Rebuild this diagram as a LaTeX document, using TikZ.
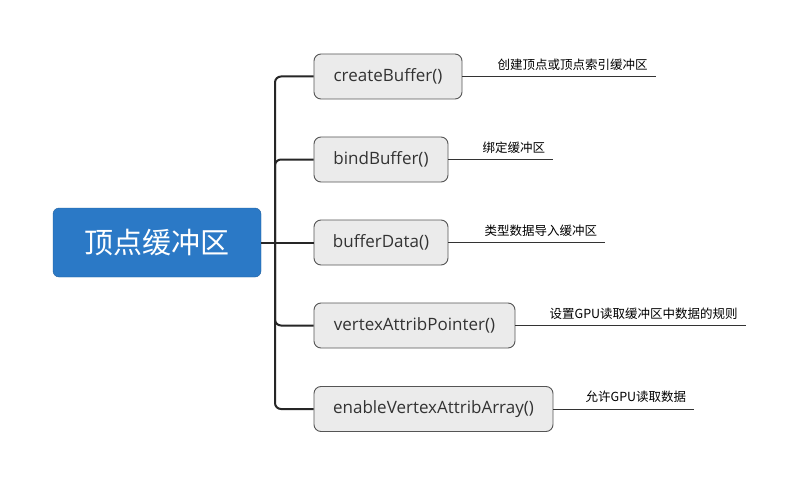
\documentclass[tikz,border=0pt]{standalone}
\usepackage{fontspec}
\setmainfont{Open Sans}
\newfontfamily\cjk{Noto Sans CJK SC}
\usepackage{tikz}
\usetikzlibrary{positioning}
\definecolor{rootblue}{RGB}{43,121,198}
\definecolor{boxgray}{RGB}{235,235,235}
\definecolor{edgegray}{RGB}{85,85,85}
\definecolor{inkgray}{RGB}{51,51,51}
\tikzset{root/.style = {fill = rootblue, draw = rootblue!80!black, rounded corners = 6,
                        minimum width = 208, minimum height = 69, inner sep = 0,
                        text = white, font = \cjk\fontsize{29}{33}\selectfont}}
\tikzset{func/.style = {fill = boxgray, draw = edgegray, line width = 0.9, rounded corners = 7,
                        minimum height = 45, inner sep = 0, text = inkgray,
                        font = \fontsize{17}{20}\selectfont}}
\tikzset{note/.style = {anchor = south west, inner sep = 0, text = black,
                        font = \cjk\fontsize{12.5}{15}\selectfont}}
\tikzset{trunk/.style = {draw = black!85, line width = 2, rounded corners = 6}}
\tikzset{tie/.style = {draw = inkgray, line width = 0.9}}

\begin{document}
\begin{tikzpicture}[x=1pt, y=1pt]
      \useasboundingbox [fill = white] (0, 0) rectangle (800, -484);
      \node [root] (buf) at (157, -242.5) {顶点缓冲区};
      \coordinate (hub) at (275, -242.5);
      \node [func, minimum width = 148] (create) at (388, -76.5) {createBuffer()};
      \node [func, minimum width = 134] (bind) at (381, -159.5) {bindBuffer()};
      \node [func, minimum width = 134] (data) at (381, -242.5) {bufferData()};
      \node [func, minimum width = 201] (pointer) at (414.5, -325.5) {vertexAttribPointer()};
      \node [func, minimum width = 239] (enable) at (433.5, -409) {enableVertexAttribArray()};
      \draw [trunk] (buf.east) -- (data.west);
      \draw [trunk] (hub) |- (create.west);
      \draw [trunk] (hub) |- (bind.west);
      \draw [trunk] (hub) |- (pointer.west);
      \draw [trunk] (hub) |- (enable.west);
      \node [note] (createnote) at ([xshift=35, yshift=6]create.east) {创建顶点或顶点索引缓冲区};
      \node [note] (bindnote) at ([xshift=34, yshift=6]bind.east) {绑定缓冲区};
      \node [note] (datanote) at ([xshift=36, yshift=6]data.east) {类型数据导入缓冲区};
      \node [note] (pointernote) at ([xshift=34, yshift=6]pointer.east) {设置GPU读取缓冲区中数据的规则};
      \node [note] (enablenote) at ([xshift=32, yshift=6]enable.east) {允许GPU读取数据};
      \draw [tie] (create.east) -- ([xshift=8]create.east -| createnote.east);
      \draw [tie] (bind.east) -- ([xshift=8]bind.east -| bindnote.east);
      \draw [tie] (data.east) -- ([xshift=8]data.east -| datanote.east);
      \draw [tie] (pointer.east) -- ([xshift=8]pointer.east -| pointernote.east);
      \draw [tie] (enable.east) -- ([xshift=8]enable.east -| enablenote.east);
    \end{tikzpicture}
\end{document}
